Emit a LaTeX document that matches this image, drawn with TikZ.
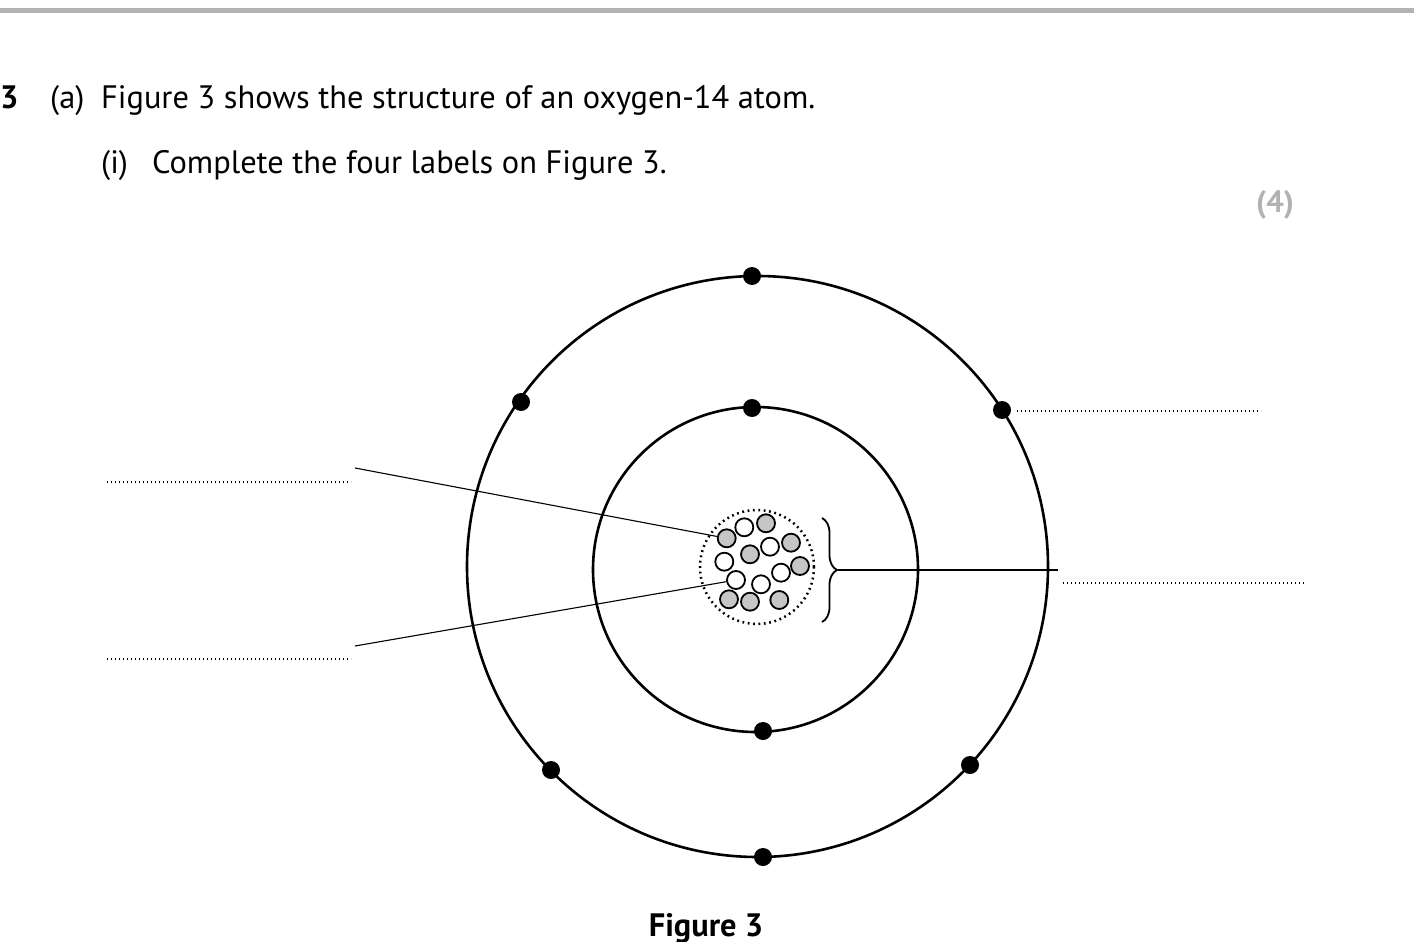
\documentclass[tikz,border=0pt]{standalone}
\usepackage{fontspec}
\setmainfont{PT Sans}
\usetikzlibrary{decorations.pathreplacing}
\begin{document}
\begin{tikzpicture}[x=1pt,y=-1pt,
  txt/.style={inner sep=0pt,anchor=base west,font=\fontsize{32.4}{38}\selectfont},
  shell/.style={draw=black,line width=2.6pt},
  electron/.style={circle,fill=black,inner sep=0pt,minimum size=18pt},
  proton/.style={circle,draw=black,fill=gray!45,line width=1.8pt,inner sep=0pt,minimum size=18pt},
  neutron/.style={circle,draw=black,fill=white,line width=1.8pt,inner sep=0pt,minimum size=18pt},
  answer/.style={line width=1.3pt,dash pattern=on 1.3pt off 2.7pt},
  pointer/.style={line width=1.1pt}]
\useasboundingbox (0,0) rectangle (1414,942);
\fill[white] (0,0) rectangle (1414,942);
\fill[gray!60] (0,8) rectangle (1414,13);
% header text
\node[txt,font=\fontsize{32.4}{38}\selectfont\bfseries] (qn) at (0,108) {3};
\node[txt] (qa) at (50,108) {(a)};
\node[txt] (qat) at (101,108) {Figure 3 shows the structure of an oxygen-14 atom.};
\node[txt] (qi) at (101,173) {(i)};
\node[txt] (qit) at (152,173) {Complete the four labels on Figure 3.};
\node[txt,font=\fontsize{31}{36}\selectfont\bfseries,text=gray!60] (marks) at (1256,212) {(4)};
% shells
\node[circle,shell,minimum size=581pt,inner sep=0pt] (outer) at (757.5,566.5) {};
\node[circle,shell,minimum size=325pt,inner sep=0pt] (inner) at (755.5,569.5) {};
% nucleus boundary
\node[circle,draw=black,line width=2.5pt,dash pattern=on 1.8pt off 3.6pt,minimum size=114pt,inner sep=0pt] (nucleus) at (757,567) {};
% electrons
\node[electron] (e1) at (752,276) {};
\node[electron] (e2) at (521,402) {};
\node[electron] (e3) at (1002,410) {};
\node[electron] (e4) at (551,770) {};
\node[electron] (e5) at (970,765) {};
\node[electron] (e6) at (763,857) {};
\node[electron] (e7) at (752,408) {};
\node[electron] (e8) at (763,731) {};
% protons
\node[proton] (p1) at (726.7,538.3) {};
\node[proton] (p2) at (766,523.3) {};
\node[proton] (p3) at (791,542.7) {};
\node[proton] (p4) at (750,554.3) {};
\node[proton] (p5) at (800,566) {};
\node[proton] (p6) at (729,599.3) {};
\node[proton] (p7) at (750,601.7) {};
\node[proton] (p8) at (779.3,600) {};
% neutrons
\node[neutron] (n1) at (744.3,527.3) {};
\node[neutron] (n2) at (770,546.7) {};
\node[neutron] (n3) at (724.3,561.7) {};
\node[neutron] (n4) at (736,580) {};
\node[neutron] (n5) at (781,572.7) {};
\node[neutron] (n6) at (761,584.3) {};
% brace
\coordinate (bt) at (822,518);
\coordinate (bb) at (822,622);
\draw[line width=1.8pt,decoration={brace,amplitude=15pt},decorate] (bt) -- (bb);
\coordinate (btip) at (838,570);
\coordinate (bend) at (1058,570);
\draw[pointer] (btip) -- (bend);
% pointer lines on left
\coordinate (l1) at (355,468);
\coordinate (l2) at (355,646);
\draw[pointer] (l1) -- (p1);
\draw[pointer] (l2) -- (n4);
% answer lines
\coordinate (a1s) at (107,482); \coordinate (a1e) at (351,482);
\coordinate (a2s) at (107,659); \coordinate (a2e) at (351,659);
\coordinate (a3s) at (1017,411); \coordinate (a3e) at (1261,411);
\coordinate (a4s) at (1063,583); \coordinate (a4e) at (1306,583);
\draw[answer] (a1s) -- (a1e);
\draw[answer] (a2s) -- (a2e);
\draw[answer] (a3s) -- (a3e);
\draw[answer] (a4s) -- (a4e);
% caption
\node[txt,font=\fontsize{32.4}{38}\selectfont\bfseries,anchor=base] (cap) at (706,936) {Figure 3};
\end{tikzpicture}
\end{document}
